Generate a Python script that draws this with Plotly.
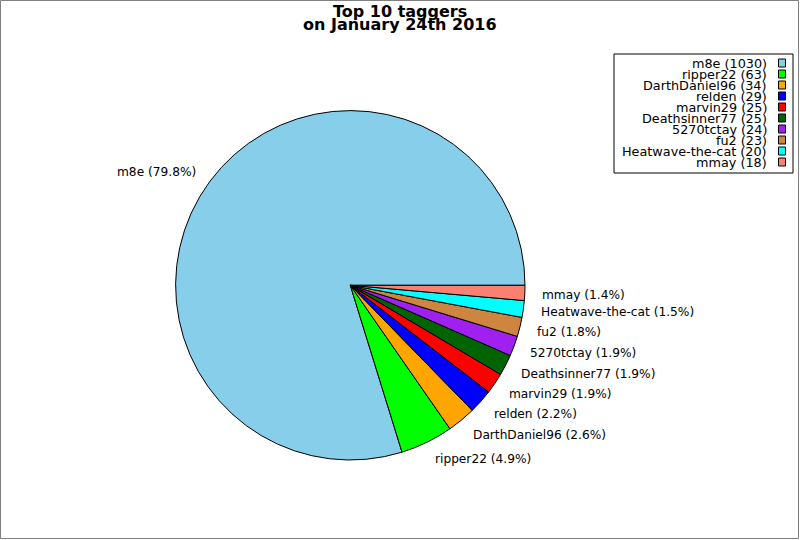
import math
import plotly.graph_objects as go

names = ["m8e", "ripper22", "DarthDaniel96", "relden", "marvin29",
         "Deathsinner77", "5270tctay", "fu2", "Heatwave-the-cat", "mmay"]
counts = [1030, 63, 34, 29, 25, 25, 24, 23, 20, 18]
colors = ["#87ceeb", "#00ff00", "#ffa500", "#0000ff", "#ff0000",
          "#006400", "#a020f0", "#cd853f", "#00ffff", "#fa8072"]
title_lines = ["Top 10 taggers", "on January 24th 2016"]

W, H = 800, 540
cx, cy, R = 350.3, 285.3, 174.7  # pixel centre (from top) and radius
FONT = "DejaVu Sans"

total = sum(counts)
# matplotlib-style: first wedge starts at 3 o'clock, counterclockwise
rotation = 90 - 360 * counts[0] / total

fig = go.Figure()
fig.add_trace(go.Pie(
    labels=names, values=counts, sort=False,
    direction="counterclockwise", rotation=rotation,
    marker=dict(colors=colors, line=dict(color="black", width=1)),
    textinfo="none", hoverinfo="label+value+percent", showlegend=False,
    domain=dict(x=[(cx - R) / W, (cx + R) / W],
                y=[(H - cy - R) / H, (H - cy + R) / H]),
))

annotations = []
shapes = []
cum = 0.0
for n, c in zip(names, counts):
    frac = c / total
    mid = 2 * math.pi * (cum + frac / 2)
    cum += frac
    lx = cx + 1.1 * R * math.cos(mid)
    ly = cy - 1.1 * R * math.sin(mid)
    annotations.append(dict(
        x=lx / W, y=1 - ly / H, xref="paper", yref="paper",
        text=f"{n} ({frac * 100:.1f}%)", showarrow=False,
        borderpad=0, borderwidth=0, yshift=-1,
        xanchor="left" if math.cos(mid) > 0 else "right", yanchor="middle",
        font=dict(family=FONT, size=12.2, color="black"),
    ))

# title
for i, t in enumerate(title_lines):
    annotations.append(dict(
        x=0.5, y=1 - (11 + 14 * i) / H, xref="paper", yref="paper",
        text=f"<b>{t}</b>", showarrow=False, xanchor="center", yanchor="middle",
        borderpad=0, borderwidth=0,
        font=dict(family=FONT, size=16, color="black"),
    ))

# custom legend (text right-aligned, swatch on the right)
lg_left, lg_top, lg_right, lg_bottom = 614, 54, 793, 173
shapes.append(dict(type="rect", xref="paper", yref="paper",
                   x0=lg_left / W, x1=lg_right / W,
                   y0=1 - lg_bottom / H, y1=1 - lg_top / H,
                   line=dict(color="black", width=1), fillcolor="white"))
row0, step = 63.0, 11.0
for i, (n, c, col) in enumerate(zip(names, counts, colors)):
    yc = row0 + step * i
    annotations.append(dict(
        x=767 / W, y=1 - yc / H, xref="paper", yref="paper",
        text=f"{n} ({c})", showarrow=False, xanchor="right", yanchor="middle",
        borderpad=0, borderwidth=0,
        font=dict(family=FONT, size=12.8, color="black"),
    ))
    shapes.append(dict(type="rect", xref="paper", yref="paper",
                       x0=778.5 / W, x1=785.5 / W,
                       y0=1 - (yc + 4) / H, y1=1 - (yc - 4) / H,
                       line=dict(color="black", width=1), fillcolor=col))

# figure frame
shapes.append(dict(type="rect", xref="paper", yref="paper",
                   x0=0.5 / W, x1=1 - 1.5 / W, y0=1.5 / H, y1=1 - 0.5 / H,
                   line=dict(color="#808080", width=1)))

fig.update_layout(
    width=W, height=H, margin=dict(l=0, r=0, t=0, b=0),
    paper_bgcolor="white", plot_bgcolor="white",
    annotations=annotations, shapes=shapes, showlegend=False,
    font=dict(family=FONT),
)
fig.write_html("out.html", config={"displayModeBar": False},
               post_script="document.body.style.margin='0';"
                           "document.body.style.overflow='hidden';")
